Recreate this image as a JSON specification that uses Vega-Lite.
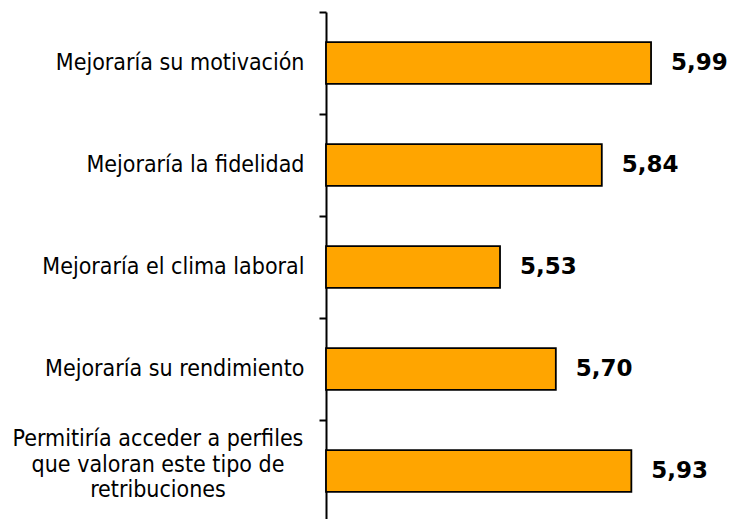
{
  "$schema": "https://vega.github.io/schema/vega-lite/v6.json",
  "autosize": "none",
  "padding": {"left": 326, "top": 12, "right": 12, "bottom": 0},
  "width": 394,
  "height": 510,
  "config": {
    "view": {"stroke": null}
  },
  "data": {
    "values": [
      {"categoria": "Mejoraría su motivación", "valor": 5.99, "etiqueta": "5,99", "multilinea": false},
      {"categoria": "Mejoraría la fidelidad", "valor": 5.84, "etiqueta": "5,84", "multilinea": false},
      {"categoria": "Mejoraría el clima laboral", "valor": 5.53, "etiqueta": "5,53", "multilinea": false},
      {"categoria": "Mejoraría su rendimiento", "valor": 5.70, "etiqueta": "5,70", "multilinea": false},
      {"categoria": "Permitiría acceder a perfiles|que valoran este tipo de|retribuciones", "valor": 5.93, "etiqueta": "5,93", "multilinea": true}
    ]
  },
  "encoding": {
    "y": {
      "field": "categoria",
      "type": "nominal",
      "sort": null,
      "scale": {"paddingInner": 0, "paddingOuter": 0},
      "axis": {
        "title": null,
        "bandPosition": 0,
        "tickSize": 7,
        "tickWidth": 2,
        "tickColor": "#000000",
        "domainColor": "#000000",
        "domainWidth": 2,
        "labelFont": "DejaVu Sans Condensed",
        "labelFontSize": 23,
        "labelColor": "#000000",
        "labelLimit": 400,
        "labelPadding": 15,
        "labelExpr": "indexof(datum.value, '|') >= 0 ? '' : datum.value"
      }
    }
  },
  "layer": [
    {
      "mark": {"type": "bar", "color": "#FFA500", "stroke": "#000000", "strokeWidth": 1.8, "height": {"band": 0.41}},
      "encoding": {
        "x": {"field": "valor", "type": "quantitative", "scale": {"domain": [5, 6.2], "zero": false}, "axis": null},
        "x2": {"datum": 5}
      }
    },
    {
      "mark": {"type": "text", "align": "left", "baseline": "middle", "dx": 20, "font": "DejaVu Sans", "fontSize": 23, "fontWeight": "bold", "color": "#000000"},
      "encoding": {
        "x": {"field": "valor", "type": "quantitative"},
        "text": {"field": "etiqueta", "type": "nominal"}
      }
    },
    {
      "transform": [{"filter": "datum.multilinea"}],
      "mark": {"type": "text", "align": "center", "baseline": "middle", "dx": -168, "dy": -32, "lineBreak": "|", "lineHeight": 25.5, "font": "DejaVu Sans Condensed", "fontSize": 23, "color": "#000000"},
      "encoding": {
        "x": {"datum": 5},
        "text": {"field": "categoria", "type": "nominal"}
      }
    }
  ]
}
